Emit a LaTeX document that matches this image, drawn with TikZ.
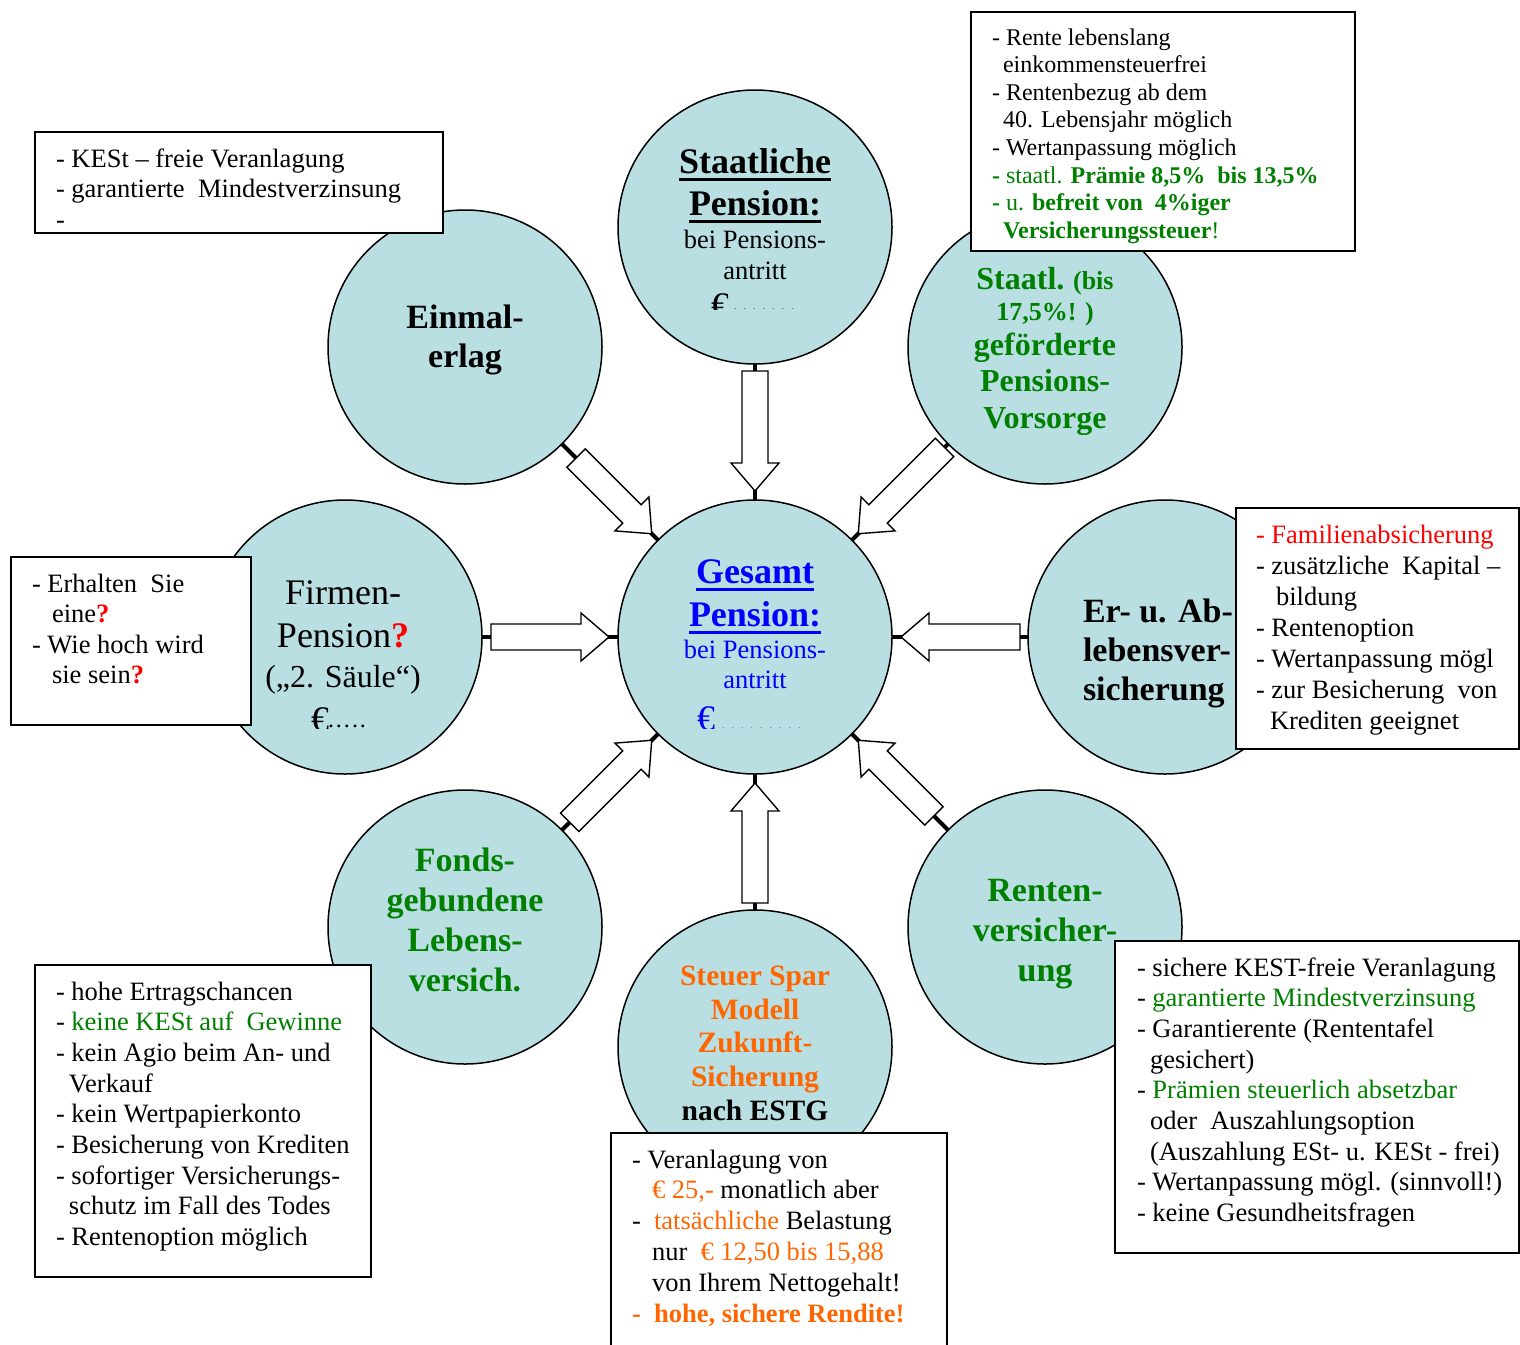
\documentclass[tikz,border=0pt]{standalone}
\usepackage{fontspec}
\setmainfont{Liberation Serif}
\usetikzlibrary{calc}
\definecolor{cfill}{RGB}{185,223,227}
\definecolor{dgreen}{RGB}{0,128,0}
\definecolor{orng}{RGB}{255,102,0}
\definecolor{rred}{RGB}{255,0,0}
\definecolor{bblue}{RGB}{0,0,255}
\newcommand\fs[2]{\fontsize{#1}{#2}\selectfont}
\newsavebox\ulbox
\newcommand\myul[1]{\sbox\ulbox{#1}\rlap{\rule[-8pt]{\wd\ulbox}{3.5pt}}\usebox\ulbox}
\newcommand\tdots{.\hspace{7pt}.\hspace{7pt}.\hspace{7pt}.\hspace{7pt}.\hspace{7pt}.\hspace{7pt}.}
\tikzset{
  circ/.style={circle, draw=black, line width=1.5pt, fill=cfill, minimum size=274pt, inner sep=0pt},
  conn/.style={line width=4pt, draw=black},
  infobox/.style={rectangle, draw=black, line width=1.5pt, fill=white, inner sep=0pt, anchor=north west},
  boxtext/.style={anchor=base west, align=left, font=\fs{26.5}{30.8}},
  ctext/.style={anchor=base, align=center},
  pics/barrow/.style={code={\draw[line width=1.4pt, fill=white, line join=miter]
     (#1,-13) -- (31,-13) -- (31,-24) -- (59,0) -- (31,24) -- (31,13) -- (#1,13) -- cycle;}},
  pics/barrow/.default=-61
}
\begin{document}
\begin{tikzpicture}[x=1pt,y=-1pt, every node/.style={inner sep=0pt,outer sep=0pt}]
\useasboundingbox (0,0) rectangle (1520,1344);
\fill[white] (0,0) rectangle (1520,1344);
% circles
\node[circ] (cen) at (755,637) {};
\node[circ] (top) at (755,227) {};
\node[circ] (ul)  at (465,347) {};
\node[circ] (ur)  at (1045,347) {};
\node[circ] (lft) at (345,637) {};
\node[circ] (rgt) at (1165,637) {};
\node[circ] (ll)  at (465,927) {};
\node[circ] (lr)  at (1045,927) {};
\node[circ] (bot) at (755,1047) {};
% circle texts (coordinates give the baseline of the last line)
\node[ctext, font=\fs{36}{42}\bfseries] (tTop1) at (755,215) {\myul{Staatliche}\\\myul{Pension:}};
\node[ctext, font=\fs{26.5}{31}] (tTop2) at (755,279) {bei Pensions-\\antritt};
\begin{scope}
  \clip (600,250) rectangle (900,309.5);
  \node[anchor=base west, font=\fs{36}{36}] (tTopE) at (711,317) {€};
\end{scope}
\node[anchor=base west, font=\fs{10}{10}, text=black!70] (tTopD) at (734,309) {\tdots};

\node[ctext, font=\fs{36}{43}\bfseries, text=bblue] (tCen1) at (755,626) {\myul{Gesamt}\\\myul{Pension:}};
\node[ctext, font=\fs{26.5}{30}, text=bblue] (tCen2) at (755,688) {bei Pensions-\\antritt};
\begin{scope}
  \clip (600,680) rectangle (900,728.5);
  \node[anchor=base west, font=\fs{36}{36}, text=bblue] (tCenE) at (697,730) {€};
\end{scope}
\node[anchor=base west, font=\fs{10}{10}, text=bblue!60] (tCenD) at (722,728) {\tdots\hspace{7pt}.\hspace{7pt}.};

\node[ctext, font=\fs{34}{39}\bfseries] (tUl) at (465,367) {Einmal-\\erlag};

\node[ctext, font=\fs{26}{31}\bfseries, text=dgreen] (tUr1) at (1045,320) {{\fs{32}{31}Staatl.} (bis\\17,5\%! )};
\node[ctext, font=\fs{32}{36.5}\bfseries, text=dgreen] (tUr2) at (1045,428) {geförderte\\Pensions-\\Vorsorge};

\node[ctext, font=\fs{36}{43}] (tLft1) at (343,647) {Firmen-\\Pension{\color{rred}\bfseries ?}};
\node[ctext, font=\fs{32}{32}] (tLft2) at (343,687) {(„2. Säule“)};
\begin{scope}
  \clip (250,690) rectangle (450,728);
  \node[anchor=base west, font=\fs{36}{36}] (tLftE) at (311,731) {€};
\end{scope}
\node[anchor=base west, font=\fs{24}{24}] (tLftD) at (328,727) {.\hspace{2pt}.\hspace{2pt}.\hspace{2pt}.\hspace{2pt}.};

\node[anchor=base west, align=left, font=\fs{34}{39}\bfseries] (tRgt) at (1083,700) {Er- u. Ab-\\lebensver-\\sicherung};

\node[ctext, font=\fs{34}{40}\bfseries, text=dgreen] (tLl) at (465,991) {Fonds-\\gebundene\\Lebens-\\versich.};
\node[ctext, font=\fs{34}{40}\bfseries, text=dgreen] (tLr) at (1045,981) {Renten-\\versicher-\\ung};
\node[ctext, font=\fs{29.5}{33.8}\bfseries, text=orng] (tBot) at (755,1120.5) {Steuer Spar\\Modell\\Zukunft-\\Sicherung\\{\color{black}nach ESTG}};

% connectors
\foreach \s in {top,ul,ur,lft,rgt,ll,lr,bot} \draw[conn] (\s) -- (cen);
% block arrows
\pic[rotate=-90]  at ($(top)!0.5!(cen)$) {barrow};
\pic[rotate=-45]  at ($(ul)!0.5!(cen)$)  {barrow=-48};
\pic[rotate=-135] at ($(ur)!0.5!(cen)$)  {barrow=-63};
\pic[rotate=0]    at ($(lft)!0.5!(cen)$) {barrow=-59};
\pic[rotate=180]  at ($(rgt)!0.5!(cen)$) {barrow=-60};
\pic[rotate=45]   at ($(ll)!0.5!(cen)$)  {barrow=-57};
\pic[rotate=135]  at ($(lr)!0.5!(cen)$)  {barrow=-48};
\pic[rotate=90]   at ($(bot)!0.5!(cen)$) {barrow};

% info boxes
\node[infobox, minimum width=384pt, minimum height=239pt] (bTR) at (971,12) {};
\node[infobox, minimum width=408pt, minimum height=101pt] (bTL) at (35,132) {};
\node[infobox, minimum width=240pt, minimum height=168pt] (bL)  at (11,557) {};
\node[infobox, minimum width=283pt, minimum height=241pt] (bR)  at (1236,508) {};
\node[infobox, minimum width=336pt, minimum height=312pt] (bBL) at (35,965) {};
\node[infobox, minimum width=336pt, minimum height=240pt] (bBC) at (611,1133) {};
\node[infobox, minimum width=404pt, minimum height=312pt] (bBR) at (1115,941) {};

% box texts (coordinates give the baseline of the last line)
\node[anchor=base west, align=left, font=\fs{24}{27.6}] (xTR) at (992,238.2) {%
- Rente lebenslang\\
\hspace*{11pt}einkommensteuerfrei\\
- Rentenbezug ab dem\\
\hspace*{11pt}40. Lebensjahr möglich\\
- Wertanpassung möglich\\
{\color{dgreen}\textbf{-} staatl. \textbf{Prämie 8,5\%~ bis 13,5\%}}\\
{\color{dgreen}\textbf{-} u. \textbf{befreit von~ 4\%iger}}\\
\hspace*{11pt}{\color{dgreen}\textbf{Versicherungssteuer}!}};

\node[boxtext] (xTL) at (56,228.6) {%
- KESt – freie Veranlagung\\
- garantierte~ Mindestverzinsung\\
-};

\node[boxtext, font=\fs{26.5}{30.5}] (xL) at (32,683.5) {%
- Erhalten~ Sie\\
\hspace*{20pt}eine{\color{rred}\bfseries ?}\\
- Wie hoch wird\\
\hspace*{20pt}sie sein{\color{rred}\bfseries ?}};

\node[boxtext, font=\fs{26.5}{31}] (xR) at (1256,729) {%
{\color{rred}- Familienabsicherung}\\
- zusätzliche~ Kapital –\\
\hspace*{20pt}bildung\\
- Rentenoption\\
- Wertanpassung mögl\\
- zur Besicherung~ von\\
\hspace*{14pt}Krediten geeignet};

\node[boxtext, font=\fs{26.5}{30.7}] (xBL) at (56,1245.6) {%
- hohe Ertragschancen\\
- {\color{dgreen}keine KESt auf~ Gewinne}\\
- kein Agio beim An- und\\
\hspace*{13pt}Verkauf\\
- kein Wertpapierkonto\\
- Besicherung von Krediten\\
- sofortiger Versicherungs-\\
\hspace*{13pt}schutz im Fall des Todes\\
- Rentenoption möglich};

\node[boxtext, font=\fs{26.5}{30.9}] (xBC) at (632,1322.5) {%
- Veranlagung von\\
\hspace*{20pt}{\color{orng}€ 25,-} monatlich aber\\
-~ {\color{orng}tatsächliche} Belastung\\
\hspace*{20pt}nur~ {\color{orng}€ 12,50 bis 15,88}\\
\hspace*{20pt}von Ihrem Nettogehalt!\\
{\color{orng}\bfseries -~ hohe, sichere Rendite!}};

\node[boxtext, font=\fs{26.5}{30.7}] (xBR) at (1137,1221.6) {%
- sichere KEST-freie Veranlagung\\
- {\color{dgreen}garantierte Mindestverzinsung}\\
- Garantierente (Rententafel\\
\hspace*{13pt}gesichert)\\
- {\color{dgreen}Prämien steuerlich absetzbar}\\
\hspace*{13pt}oder~ Auszahlungsoption\\
\hspace*{13pt}(Auszahlung ESt- u. KESt - frei)\\
- Wertanpassung mögl. (sinnvoll!)\\
- keine Gesundheitsfragen};
\end{tikzpicture}
\end{document}
